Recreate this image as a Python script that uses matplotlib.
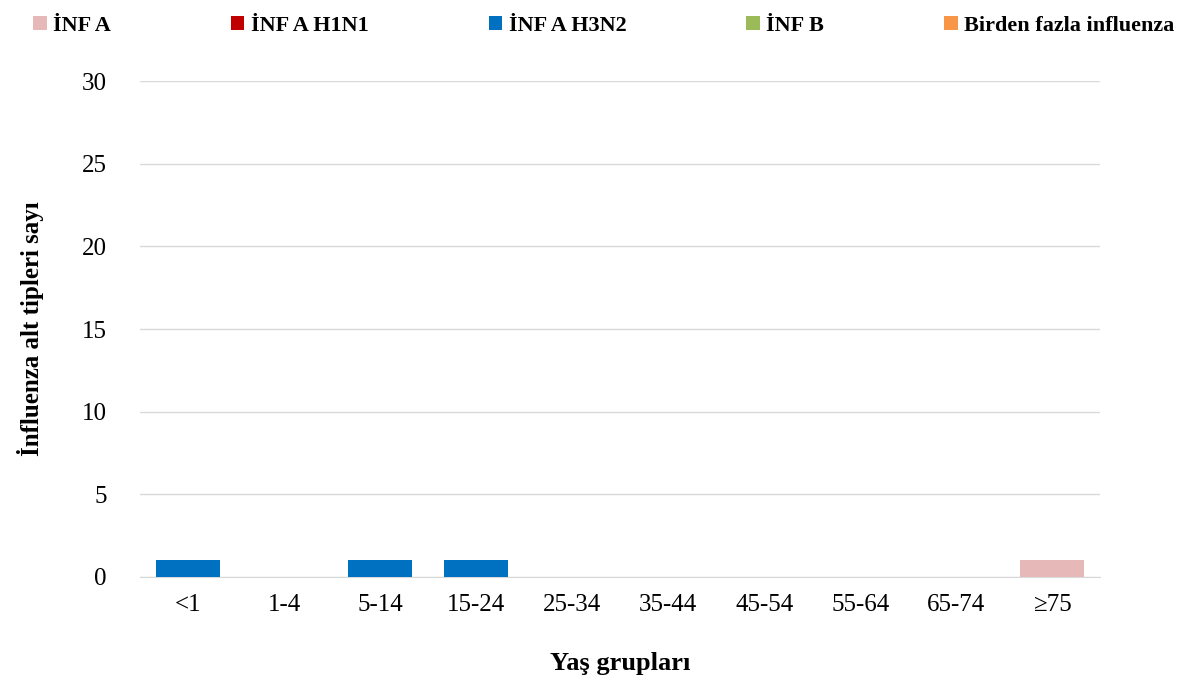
import numpy as np
import matplotlib.pyplot as plt

plt.rcParams['font.family'] = ['Liberation Serif', 'DejaVu Serif']

# Age groups and subtype counts
age_groups = ['<1', '1-4', '5-14', '15-24', '25-34', '35-44', '45-54', '55-64', '65-74', '≥75']
inf_a      = [0, 0, 0, 0, 0, 0, 0, 0, 0, 1]
inf_a_h1n1 = [0, 0, 0, 0, 0, 0, 0, 0, 0, 0]
inf_a_h3n2 = [1, 0, 1, 1, 0, 0, 0, 0, 0, 0]
inf_b      = [0, 0, 0, 0, 0, 0, 0, 0, 0, 0]
birden     = [0, 0, 0, 0, 0, 0, 0, 0, 0, 0]

series = [
    ('İNF A', inf_a, '#E6B9B8'),
    ('İNF A H1N1', inf_a_h1n1, '#C00000'),
    ('İNF A H3N2', inf_a_h3n2, '#0070C0'),
    ('İNF B', inf_b, '#9BBB59'),
    ('Birden fazla influenza', birden, '#F79646'),
]

fig = plt.figure(figsize=(11.9, 6.82), dpi=100)
ax = fig.add_axes([0.1176, 0.154, 0.807, 0.727])

x = np.arange(len(age_groups))
bottom = np.zeros(len(age_groups))
for name, vals, col in series:
    vals = np.array(vals, dtype=float)
    ax.bar(x, vals, width=0.67, bottom=bottom, color=col, label=name, zorder=3)
    bottom += vals

ax.set_xlim(-0.5, len(age_groups) - 0.5)
ax.set_ylim(0, 30)
ax.set_yticks(range(0, 31, 5))
ax.set_xticks(x)
ax.set_xticklabels(age_groups)
ax.yaxis.grid(True, color='#D9D9D9', linewidth=1, zorder=0)
for s in ['top', 'right', 'left']:
    ax.spines[s].set_visible(False)
ax.spines['bottom'].set_color('#D9D9D9')
ax.tick_params(axis='both', length=0, labelsize=18, colors='#000000')
ax.tick_params(axis='y', pad=24)
ax.tick_params(axis='x', pad=12)

ax.set_xlabel('Yaş grupları', fontsize=19, fontweight='bold', labelpad=26)
ax.set_ylabel('İnfluenza alt tipleri sayı', fontsize=18, fontweight='bold', labelpad=27)

fig.legend(loc='upper left', bbox_to_anchor=(0.015, 1.0, 0.985, 0.0), ncol=5, mode='expand',
           frameon=False, prop={'weight': 'bold', 'size': 16},
           handlelength=0.6, handleheight=0.6, handletextpad=0.3, borderaxespad=0.3)

fig.savefig('out.png', dpi=100)
